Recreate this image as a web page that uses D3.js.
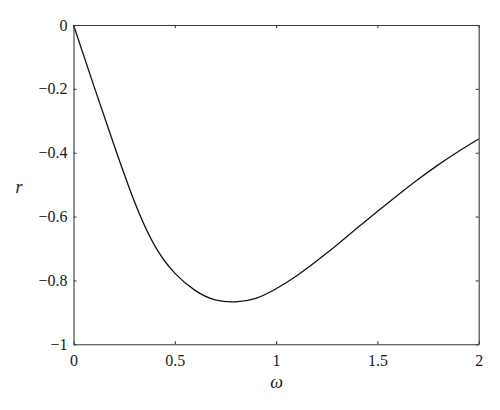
<!DOCTYPE html>
<html>
<head>
<meta charset="utf-8">
<script src="https://cdn.jsdelivr.net/npm/d3@7"></script>
<style>
  body { margin: 0; background: #fff; }
  .axis path, .axis line { stroke: #3a3a3a; stroke-width: 1.1; }
</style>
</head>
<body>
<div id="chart"></div>
<script>
(function () {

  // curve (omega, r)
  const omega = [0, 0.1, 0.2, 0.3, 0.4, 0.5, 0.6, 0.7, 0.8, 0.9, 1.0, 1.1, 1.2, 1.3, 1.4, 1.5, 1.6, 1.7, 1.8, 1.9, 2.0];
  const rValues = [0, -0.190, -0.376, -0.552, -0.690, -0.777, -0.831, -0.861, -0.867, -0.856, -0.826, -0.786, -0.739, -0.689, -0.636, -0.584, -0.533, -0.484, -0.438, -0.396, -0.357];

  const xTicks = [0, 0.5, 1, 1.5, 2];
  const xTickLabels = ["0", "0.5", "1", "1.5", "2"];
  const yTicks = [0, -0.2, -0.4, -0.6, -0.8, -1];
  const yTickLabels = ["0", "\u22120.2", "\u22120.4", "\u22120.6", "\u22120.8", "\u22121"];

  const svg_width = 500, svg_height = 410;
  const margin = { top: 25, right: 21.3, bottom: 65.7, left: 73.5 };
  const width = svg_width - margin.left - margin.right;
  const height = svg_height - margin.top - margin.bottom;

  const x = d3.scaleLinear().domain([0, 2]).range([0, width]);
  const y = d3.scaleLinear().domain([-1, 0]).range([height, 0]);

  const root = d3.select("#chart").append("svg")
    .attr("width", svg_width)
    .attr("height", svg_height);

  // pick the first serif face that is really there
  function pickSerif(list) {
    const probe = root.append("text").attr("font-size", 40).text("0.5 r \u03c9 mmwwii");
    const base = probe.attr("font-family", "monospace").node().getComputedTextLength();
    let found = "serif";
    for (const f of list) {
      const w = probe.attr("font-family", "'" + f + "', monospace").node().getComputedTextLength();
      if (Math.abs(w - base) > 0.5) { found = "'" + f + "', serif"; break; }
    }
    probe.remove();
    return found;
  }
  const serif = pickSerif(["Liberation Serif", "DejaVu Serif", "Noto Serif", "Times New Roman"]);

  const svg = root.append("g")
    .attr("transform", "translate(" + margin.left + "," + margin.top + ")");

  const data = omega.map((w, i) => ({ w: w, r: rValues[i] }));

  svg.append("path")
    .datum(data)
    .attr("fill", "none")
    .attr("stroke", "#111")
    .attr("stroke-width", 1.3)
    .attr("d", d3.line()
      .x(d => x(d.w))
      .y(d => y(d.r))
      .curve(d3.curveNatural));

  // bottom axis
  const gx = svg.append("g")
    .attr("class", "axis axis-x")
    .attr("transform", "translate(0," + height + ")")
    .call(d3.axisBottom(x).tickValues(xTicks)
      .tickFormat((d, i) => xTickLabels[i])
      .tickSizeInner(-3).tickSizeOuter(0).tickPadding(10));

  // top axis
  svg.append("g")
    .attr("class", "axis")
    .call(d3.axisTop(x).tickValues(xTicks).tickFormat("")
      .tickSizeInner(-3).tickSizeOuter(0));

  // left axis
  const gy = svg.append("g")
    .attr("class", "axis axis-y")
    .call(d3.axisLeft(y).tickValues(yTicks)
      .tickFormat((d, i) => yTickLabels[i])
      .tickSizeInner(-3).tickSizeOuter(0).tickPadding(6));

  // right axis
  svg.append("g")
    .attr("class", "axis")
    .attr("transform", "translate(" + width + ",0)")
    .call(d3.axisRight(y).tickValues(yTicks).tickFormat("")
      .tickSizeInner(-3).tickSizeOuter(0));

  [gx, gy].forEach(g => g.attr("font-family", serif).attr("font-size", 16)
    .selectAll("text").attr("fill", "#1a1a1a"));

  // axis labels
  svg.append("text")
    .attr("x", 276.7 - margin.left)
    .attr("y", 388 - margin.top)
    .attr("text-anchor", "middle")
    .attr("font-family", serif)
    .attr("font-style", "italic")
    .attr("font-size", 18)
    .attr("fill", "#1a1a1a")
    .text("\u03c9");

  svg.append("text")
    .attr("x", 19 - margin.left)
    .attr("y", 193 - margin.top)
    .attr("text-anchor", "middle")
    .attr("font-family", serif)
    .attr("font-style", "italic")
    .attr("font-size", 18)
    .attr("fill", "#1a1a1a")
    .text("r");

})();
</script>
</body>
</html>
